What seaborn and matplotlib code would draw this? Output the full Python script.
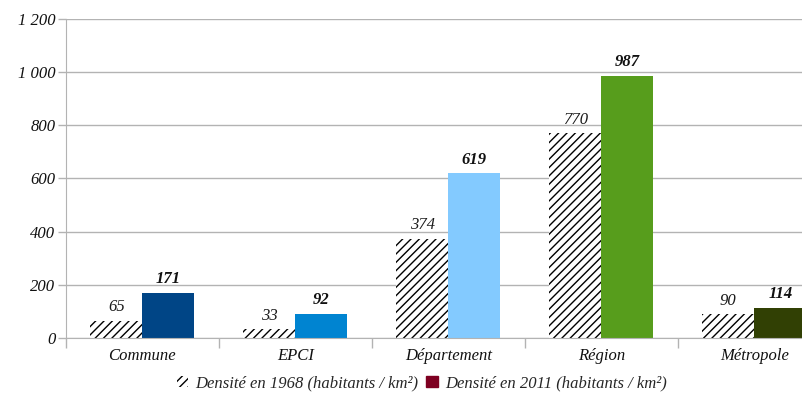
import numpy as np
import pandas as pd
import matplotlib
matplotlib.use('Agg')
import matplotlib.pyplot as plt
import seaborn as sns
from matplotlib.patches import Patch
from matplotlib.ticker import FuncFormatter, FixedLocator

categories = ['Commune', 'EPCI', 'Département', 'Région', 'Métropole']
dens_1968 = [65, 33, 374, 770, 90]
dens_2011 = [171, 92, 619, 987, 114]
colors_2011 = ['#004586', '#0084d1', '#83caff', '#579d1c', '#314004']
series = ['Densité en 1968 (habitants / km²)', 'Densité en 2011 (habitants / km²)']

df = pd.DataFrame({
    'cat': categories * 2,
    'val': dens_1968 + dens_2011,
    'serie': [series[0]] * 5 + [series[1]] * 5,
})

sns.set_style('white')
plt.rcParams['font.family'] = ['Liberation Serif', 'DejaVu Serif']
plt.rcParams['hatch.linewidth'] = 1.0
FS = 12

fig = plt.figure(figsize=(8.03, 3.94), dpi=100)
# plot area is wider than the picture: the right side is cut off like in the source
ax = fig.add_axes([0.082, 0.142, 0.9527, 0.81])

sns.barplot(data=df, x='cat', y='val', hue='serie', order=categories,
            hue_order=series, width=0.68, ax=ax, legend=False,
            palette=['white', '#7e0021'], saturation=1)

bars = [p for p in ax.patches if p.get_height() > 0]
bars_1968 = bars[:5]
bars_2011 = bars[5:10]
for p in bars_1968:
    p.set_facecolor('white')
    p.set_edgecolor('black')
    p.set_linewidth(0)
    p.set_hatch('////')
for p, c in zip(bars_2011, colors_2011):
    p.set_facecolor(c)
    p.set_edgecolor(c)
    p.set_linewidth(0)

for p, v in zip(bars_1968, dens_1968):
    ax.annotate(str(v), (p.get_x() + p.get_width() / 2, v), xytext=(0, 4),
                textcoords='offset points', ha='center', va='bottom',
                fontsize=FS, style='italic', color='#1a1a1a')
for p, v in zip(bars_2011, dens_2011):
    ax.annotate(str(v), (p.get_x() + p.get_width() / 2, v), xytext=(0, 4),
                textcoords='offset points', ha='center', va='bottom',
                fontsize=FS, style='italic', weight='bold', color='#111111')

ax.set_ylim(0, 1200)
ax.set_xlim(-0.5, 4.5)
ax.set_yticks(np.arange(0, 1201, 200))
ax.yaxis.set_major_formatter(FuncFormatter(lambda v, _: f'{int(v):,}'.replace(',', ' ')))
ax.yaxis.grid(True, color='#b3b3b3', linewidth=1)
ax.set_axisbelow(True)

ax.xaxis.set_major_locator(FixedLocator(np.arange(-0.5, 5.0, 1.0)))
ax.xaxis.set_minor_locator(FixedLocator(np.arange(5)))
ax.set_xticklabels([''] * 6)
ax.set_xticklabels(categories, minor=True)
ax.tick_params(axis='x', which='major', length=7, color='#b3b3b3', width=1, direction='out', bottom=True)
ax.tick_params(axis='x', which='minor', length=0, pad=7, labelsize=FS)
ax.tick_params(axis='y', length=6, color='#b3b3b3', width=1, direction='out', left=True, labelsize=FS, pad=1.5)
for lab in ax.get_xticklabels(minor=True) + ax.get_yticklabels():
    lab.set_style('italic')
    lab.set_color('#111111')

for s in ['top', 'right']:
    ax.spines[s].set_visible(False)
ax.spines['left'].set_color('#b3b3b3')
ax.spines['bottom'].set_color('#b3b3b3')
ax.set_xlabel('')
ax.set_ylabel('')

handles = [Patch(facecolor='none', edgecolor='black', hatch='////', linewidth=0),
           Patch(facecolor='#7e0021', edgecolor='#7e0021')]
fig.legend(handles, series, loc='center', bbox_to_anchor=(0.525, 0.027), ncol=2,
           frameon=False, handlelength=0.7, handleheight=0.7, handletextpad=0.4,
           columnspacing=0.5, prop={'style': 'italic', 'size': FS})

fig.savefig('out.png', dpi=100)
